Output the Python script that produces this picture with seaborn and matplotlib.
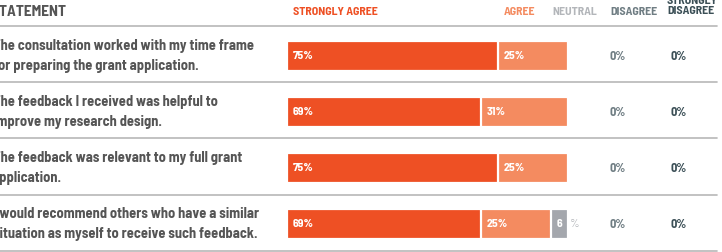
import numpy as np
import matplotlib.pyplot as plt
import seaborn as sns

statements = [
    "The consultation worked with my time frame\nfor preparing the grant application.",
    "The feedback I received was helpful to\nimprove my research design.",
    "The feedback was relevant to my full grant\napplication.",
    "I would recommend others who have a similar\nsituation as myself to receive such feedback.",
]
categories = ["STRONGLY AGREE", "AGREE", "NEUTRAL", "DISAGREE", "STRONGLY\nDISAGREE"]
strongly_agree = [75, 69, 75, 69]
agree = [25, 31, 25, 25]
neutral = [0, 0, 0, 6]
disagree = [0, 0, 0, 0]
strongly_disagree = [0, 0, 0, 0]

C_SA = "#ee5024"
C_AG = "#f48b60"
C_NE = "#a4a7ad"
C_DI = "#6f7d83"
C_SD = "#3b4f56"
C_TXT = "#555555"

sns.set_theme(style="white")
plt.rcParams["font.family"] = ["Barlow Semi Condensed", "DejaVu Sans"]

fig = plt.figure(figsize=(7.22, 2.52), dpi=100)
ax = fig.add_axes([0, 0, 1, 1])

# pixel -> data helpers (bars start at px 287, 100% = 281 px)
def px(x):
    return (x - 287) / 281 * 100

def py(y):
    return -1 + y / 56

pad = 6 / 281 * 100

rows = np.arange(len(statements))
sa = np.array(strongly_agree)
ag = np.array(agree)
ne = np.array(neutral)

# stacked bars via layered totals
layers = [(sa + ag + ne, C_NE), (sa + ag, C_AG), (sa, C_SA)]
for vals, col in layers:
    sns.barplot(x=vals, y=rows, orient="h", color=col, saturation=1, width=0.54,
                edgecolor="white", linewidth=1.6, ax=ax, native_scale=True)

ax.set_xlim(px(0), px(722))
ax.set_ylim(py(252), py(0))
ax.axis("off")

# header
ax.text(px(-8), py(12), "STATEMENT", ha="left", va="center", fontsize=11,
        color=C_TXT, fontweight="bold")
head_cols = [C_SA, C_AG, "#b3b6ba", C_DI, C_SD]
head_x = [293, 504, 552, 610, 667]
for lab, hx, hc in zip(categories, head_x, head_cols):
    yy = py(12) if "\n" not in lab else py(5.5)
    ax.text(px(hx), yy, lab, ha="left", va="center", fontsize=8.5,
            color=hc, fontweight="bold", linespacing=1.0)

# separators
for yy in [26, 82, 138, 195, 251]:
    ax.plot([px(0), px(717)], [py(yy), py(yy)], color="#b8b8b8", lw=1.2)

# statements and value labels
for i, s in enumerate(statements):
    ax.text(px(-7), i, s, ha="left", va="center", fontsize=10.4,
            color=C_TXT, fontweight="bold", linespacing=1.6)
    ax.text(pad, i, f"{sa[i]}%", ha="left", va="center",
            fontsize=8.5, color="white", fontweight="bold")
    ax.text(sa[i] + pad, i, f"{ag[i]}%", ha="left", va="center",
            fontsize=8.5, color="white", fontweight="bold")
    if ne[i] > 0:
        ax.text(sa[i] + ag[i] + pad * 0.9, i, f"{ne[i]}", ha="left",
                va="center", fontsize=8.5, color="white", fontweight="bold")
        ax.text(sa[i] + ag[i] + ne[i] + pad * 0.3, i, "%", ha="left",
                va="center", fontsize=8.5, color="#b3b6ba")
    ax.text(px(618), i, f"{disagree[i]}%", ha="center", va="center",
            fontsize=9, color=C_DI, fontweight="bold")
    ax.text(px(679), i, f"{strongly_disagree[i]}%", ha="center", va="center",
            fontsize=9, color=C_SD, fontweight="bold")

fig.savefig("out.png", dpi=100)
